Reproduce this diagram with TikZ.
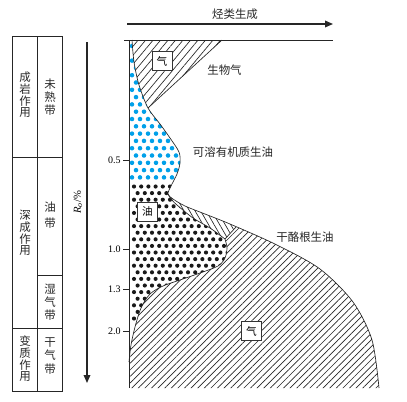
\documentclass[tikz,border=0pt]{standalone}
\usepackage{fontspec}
\setmainfont{Liberation Serif}
\newfontfamily\cjk{Noto Sans CJK SC}
\usepackage{xcolor}
\usepackage{tikz}
\usetikzlibrary{arrows.meta,patterns.meta}

\definecolor{solblue}{RGB}{0,160,233}

% boundary curves (picture pixels, y downwards)
\newcommand{\outerline}{-- plot[smooth] coordinates {(132,40) (134,62) (139,85) (148,108) (160,124) (170,138) (179,152) (180,163) (177,174) (171,186) (168,194) (173,199) (185,206) (205,214) (230,224) (277,245) (320,269) (353,302) (372,340) (379,388)}}
\newcommand{\innerline}{-- plot[smooth] coordinates {(168,194) (171,199) (177,205) (193,218) (210,228) (225,239)}}
\newcommand{\gasline}{-- plot[smooth] coordinates {(225,239) (227,248) (225,258) (218,266) (200,273) (180,280) (163,286) (150,294) (141,308) (135,327) (131,345) (129,362)}}

\begin{document}
\begin{tikzpicture}[x=0.75pt, y=-0.75pt,
    lbl/.style={font=\cjk\fontsize{8.6}{10}\selectfont, inner sep=0pt, text=black!85},
    vtext/.style={font=\cjk\fontsize{8.6}{8.8}\selectfont, align=center, inner sep=0pt, text=black!85},
    gasbox/.style={draw=black!80, fill=white, line width=0.5pt, minimum width=15pt, minimum height=14pt, inner sep=0pt, font=\cjk\fontsize{8}{8}\selectfont},
    ticklbl/.style={font=\fontsize{7.5}{9}\selectfont, anchor=east, inner sep=0pt},
    arrow/.style={-{Triangle[length=6pt, width=5pt]}, line width=0.9pt, black!85},
    curve/.style={line width=0.5pt, black!85},
    tbl/.style={line width=0.7pt, black!85}
]
    \useasboundingbox (0,0) rectangle (407,401);

    % stage table
    \draw[tbl] (12.7,36) rectangle (62,391);
    \draw[tbl] (37.7,36) -- (37.7,391);
    \draw[tbl] (12.7,157) -- (62,157);
    \draw[tbl] (37.7,275) -- (62,275);
    \draw[tbl] (12.7,328) -- (62,328);
    \node[vtext] (diagenesis) at (25,95) {成\\岩\\作\\用};
    \node[vtext] (catagenesis) at (25,233) {深\\成\\作\\用};
    \node[vtext] (metagenesis) at (25,359) {变\\质\\作\\用};
    \node[vtext, font=\cjk\fontsize{8.6}{9.8}\selectfont] (immature) at (50,97) {未\\熟\\带};
    \node[vtext, font=\cjk\fontsize{8.6}{12}\selectfont] (oilzone) at (50,215) {油\\带};
    \node[vtext, font=\cjk\fontsize{8.6}{9.8}\selectfont] (wetgas) at (50,302) {湿\\气\\带};
    \node[vtext, font=\cjk\fontsize{8.6}{9.8}\selectfont] (drygas) at (50,356) {干\\气\\带};

    % Ro axis
    \coordinate (ro start) at (87,42);
    \coordinate (ro end) at (87,383);
    \draw[arrow] (ro start) -- (ro end);
    \node[rotate=90, font=\fontsize{8}{9}\selectfont, inner sep=0pt] (ro label) at (78,202) {\textit{R}\textsubscript{\textit{o}}/\%};

    % hydrocarbon generation arrow
    \coordinate (hc start) at (127,24);
    \coordinate (hc end) at (333,24);
    \draw[arrow] (hc start) -- (hc end);
    \node[lbl] (hc) at (235,14) {烃类生成};

    % biogenic gas
    \fill[pattern={Lines[angle=50, distance=4.3pt, line width=0.5pt]}, pattern color=black!85]
        (222,40) -- plot[smooth] coordinates {(148,108) (139,85) (134,62) (132,40)} -- cycle;

    % soluble organic matter (blue dots)
    \begin{scope}
        \clip (129,40) \outerline -- (129,388) -- cycle;
        \clip (129,40) rectangle (200,182);
        \foreach \r in {0,...,18}
            \foreach \c in {0,...,6}
                \fill[solblue] ({132+mod(\r,2)*4+\c*8}, {46+\r*7.3}) circle (1.7pt);
    \end{scope}

    % kerogen oil (black dots) and gas
    \begin{scope}
        \clip (129,40) \outerline -- (129,388) -- cycle;
        \begin{scope}
            \clip (129,182) -- (190,182) -- (168,194) \innerline \gasline -- cycle;
            \foreach \r in {0,...,20}
                \foreach \c in {0,...,13}
                    \fill[black!90] ({134+mod(\r,2)*3.6+\c*7.2}, {186.5+\r*6.6}) circle (1.55pt);
        \end{scope}
        \fill[pattern={Lines[angle=120, distance=3.6pt, line width=0.5pt]}, pattern color=black!85]
            (262,199) -- plot[smooth] coordinates {(225,239) (210,228) (193,218) (177,205) (171,199) (168,194)} -- (185,170) -- cycle;
        \fill[pattern={Lines[angle=45, distance=3.5pt, line width=0.5pt]}, pattern color=black!85]
            (262,199) -- (225,239) \gasline -- (129,388) -- (395,388) -- (395,199) -- cycle;
    \end{scope}

    % outlines
    \draw[curve] (132,40) \outerline;
    \draw[curve] (168,194) \innerline \gasline;
    \draw[curve] (225,239) -- (236,227);
    \draw[curve] (222,40) -- (148,108);
    \draw[tbl] (124,40) -- (333,40);
    \draw[tbl] (129,40) -- (129,388);
    \foreach \y/\t in {160/0.5, 249/1.0, 289/1.3, 331/2.0}{
        \draw[curve, line width=0.6pt] (123,\y) -- (129,\y);
        \node[ticklbl] (tick \t) at (121,\y) {\t};
    }

    % labels
    \node[gasbox] (biogas box) at (162,61) {气};
    \node[lbl] (biogas) at (224.5,70) {生物气};
    \node[lbl] (soluble) at (233,152) {可溶有机质生油};
    \node[gasbox] (oil box) at (147.5,211.5) {油};
    \node[lbl] (kerogen) at (305,237) {干酪根生油};
    \node[gasbox] (gas box) at (251.5,331) {气};
\end{tikzpicture}
\end{document}
